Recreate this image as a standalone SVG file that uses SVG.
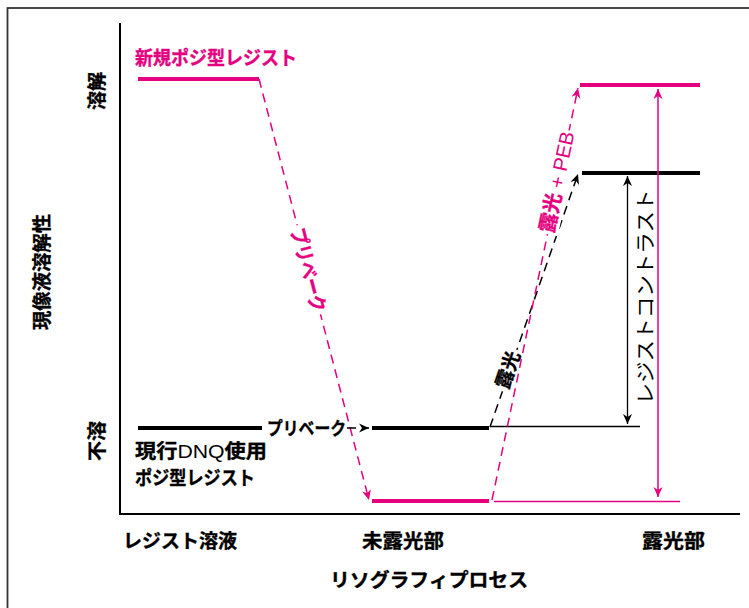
<svg xmlns="http://www.w3.org/2000/svg" width="749" height="608" viewBox="0 0 749 608">
<style>
  text { font-family: "Liberation Sans", "Noto Sans CJK JP", sans-serif; fill: #000; }
  .b { font-weight: bold; stroke: #000; stroke-width: 0.35; }
  .mg { fill: #e4007f; }
  .b.mg { stroke: #e4007f; }
  .thickk { stroke: #000; stroke-width: 4; fill: none; }
  .thickm { stroke: #e4007f; stroke-width: 4; fill: none; }
  .thin-k { stroke: #000; stroke-width: 1.3; fill: none; }
  .thin-m { stroke: #e4007f; stroke-width: 1.5; fill: none; }
  .dash-k { stroke: #000; stroke-width: 1.5; fill: none; stroke-dasharray: 9 6; }
  .dash-m { stroke: #e4007f; stroke-width: 1.5; fill: none; stroke-dasharray: 9 6; }
  .axis { stroke: #000; stroke-width: 2; fill: none; }
  .c { text-anchor: middle; dominant-baseline: central; }
</style>
<defs>
  <marker id="ak" markerUnits="userSpaceOnUse" markerWidth="10" markerHeight="10" refX="10" refY="5" orient="auto-start-reverse">
    <path d="M0,0.5 L10,5 L0,9.5 L3,5 Z" fill="#000" stroke="none"/>
  </marker>
  <marker id="am" markerUnits="userSpaceOnUse" markerWidth="10" markerHeight="10" refX="10" refY="5" orient="auto-start-reverse">
    <path d="M0,0.5 L10,5 L0,9.5 L3,5 Z" fill="#e4007f" stroke="none"/>
  </marker>
</defs>
<rect x="0" y="0" width="749" height="608" fill="#fff"/>
<rect x="7.5" y="8" width="800" height="700" fill="none" stroke="#333" stroke-width="1.8"/>

<g id="axes">
  <line class="axis" x1="120" y1="23" x2="120" y2="515"/>
  <line class="axis" x1="119" y1="514" x2="740" y2="514"/>
  <text class="b c" transform="translate(97,91) rotate(-90)" font-size="19" textLength="38" lengthAdjust="spacingAndGlyphs">溶解</text>
  <text class="b c" transform="translate(97,441) rotate(-90)" font-size="19" textLength="40" lengthAdjust="spacingAndGlyphs">不溶</text>
  <text class="b c" transform="translate(42,272) rotate(-90)" font-size="19" textLength="116" lengthAdjust="spacingAndGlyphs">現像液溶解性</text>
  <text class="b" x="123" y="541" dominant-baseline="central" font-size="19" textLength="114" lengthAdjust="spacingAndGlyphs">レジスト溶液</text>
  <text class="b" x="362" y="541" dominant-baseline="central" font-size="19" textLength="82" lengthAdjust="spacingAndGlyphs">未露光部</text>
  <text class="b" x="642" y="541" dominant-baseline="central" font-size="19" textLength="63" lengthAdjust="spacingAndGlyphs">露光部</text>
  <text class="b" x="330" y="580" dominant-baseline="central" font-size="19" textLength="198" lengthAdjust="spacingAndGlyphs">リソグラフィプロセス</text>
</g>

<g id="new-resist-solution">
  <line class="thickm" x1="138" y1="79" x2="259" y2="79"/>
  <text class="b mg" x="135" y="65" font-size="19" textLength="162" lengthAdjust="spacingAndGlyphs">新規ポジ型レジスト</text>
</g>
<g id="new-resist-unexposed">
  <line class="thickm" x1="372" y1="501" x2="489" y2="501"/>
</g>
<g id="new-resist-exposed">
  <line class="thickm" x1="580" y1="85" x2="700" y2="85"/>
</g>

<g id="dnq-resist-solution">
  <line class="thickk" x1="138" y1="428" x2="262" y2="428"/>
  <text class="b" x="135" y="458" font-size="19" textLength="132" lengthAdjust="spacingAndGlyphs">現行<tspan font-weight="normal" stroke="none">DNQ</tspan>使用</text>
  <text class="b" x="135" y="485" font-size="19" textLength="120" lengthAdjust="spacingAndGlyphs">ポジ型レジスト</text>
</g>
<g id="dnq-resist-unexposed">
  <line class="thickk" x1="372" y1="428" x2="489" y2="428"/>
</g>
<g id="dnq-resist-exposed">
  <line class="thickk" x1="582" y1="173" x2="700" y2="173"/>
</g>

<g id="connectors">
  <!-- magenta prebake -->
  <line class="dash-m" x1="259" y1="79" x2="369" y2="500" marker-end="url(#am)"/>
  <rect x="-46" y="-12" width="92" height="24" fill="#fff" transform="translate(308,270) rotate(75.2)"/>
  <text class="b mg c" transform="translate(308,270) rotate(75.2)" font-size="20" textLength="86" lengthAdjust="spacingAndGlyphs">プリベーク</text>

  <!-- black prebake -->
  <text class="b" x="267" y="435" font-size="18" textLength="79" lengthAdjust="spacingAndGlyphs">プリベーク</text>
  <line class="dash-k" x1="347" y1="428" x2="369" y2="428" stroke-dasharray="6 4" marker-end="url(#ak)"/>

  <!-- black exposure -->
  <line class="dash-k" x1="490" y1="427" x2="578" y2="174" marker-end="url(#ak)"/>
  <line class="thin-k" x1="490" y1="426.5" x2="640" y2="426.5"/>
  <rect x="-22" y="-9" width="44" height="18" fill="#fff" transform="translate(508,370) rotate(-71)"/>
  <text class="b c" transform="translate(508,370) rotate(-71)" font-size="19">露光</text>

  <!-- magenta exposure + PEB -->
  <line class="dash-m" x1="492" y1="500" x2="578" y2="88" marker-end="url(#am)"/>
  <line class="thin-m" x1="494" y1="501.5" x2="680" y2="501.5"/>
  <rect x="-53" y="-12" width="106" height="24" fill="#fff" transform="translate(557,182) rotate(-78)"/>
  <text class="mg c" transform="translate(557,182) rotate(-78)" font-size="20"><tspan font-weight="bold" stroke="#e4007f" stroke-width="0.35">露光</tspan> + PEB</text>

  <!-- resist contrast arrow -->
  <line class="thin-k" x1="627.5" y1="424" x2="627.5" y2="176" marker-start="url(#ak)" marker-end="url(#ak)"/>
  <text class="c" transform="translate(646,297) rotate(-90)" font-size="20" textLength="215" lengthAdjust="spacingAndGlyphs">レジストコントラスト</text>

  <!-- magenta dissolution arrow -->
  <line class="thin-m" x1="658" y1="497" x2="658" y2="89" marker-start="url(#am)" marker-end="url(#am)"/>
</g>
</svg>
